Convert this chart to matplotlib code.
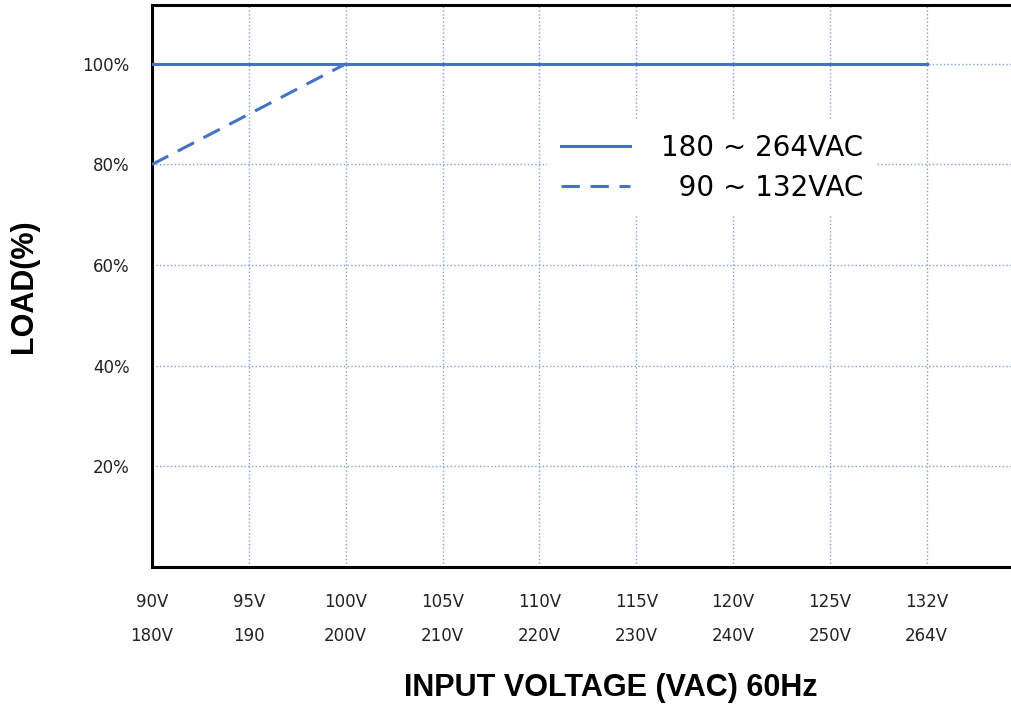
import matplotlib.pyplot as plt
import numpy as np

plt.rcParams["font.family"] = ["DejaVu Sans"]

# x categories (two voltage ranges share one axis)
volt_low = ["90V", "95V", "100V", "105V", "110V", "115V", "120V", "125V", "132V"]
volt_high = ["180V", "190", "200V", "210V", "220V", "230V", "240V", "250V", "264V"]
y_ticks = [20, 40, 60, 80, 100]

# series: position index on the category axis, load %
hv_x = [0, 8]
hv_load = [100, 100]
lv_x = [0, 2]
lv_load = [80, 100]

blue = "#4472C4"
grid_blue = "#7F9FD8"

fig = plt.figure(figsize=(10.11, 7.06), dpi=100)
ax = fig.add_axes([152 / 1011, 1 - 567 / 706, 1 - 152 / 1011, 562 / 706])

ax.plot(hv_x, hv_load, color=blue, lw=2.2, label="180 ~ 264VAC", zorder=3)
ax.plot(lv_x, lv_load, color=blue, lw=2.2, dashes=(6, 3.5), label="\u200790 ~ 132VAC", zorder=3)

ax.set_xlim(0, 8.87)
ax.set_ylim(0, 111.7)

xpos = np.arange(len(volt_low))
ax.set_xticks(xpos)
ax.set_xticklabels([a + "\n" + b for a, b in zip(volt_low, volt_high)],
                   fontsize=12, linespacing=2.12, color="#222222")
ax.set_yticks(y_ticks)
ax.set_yticklabels([f"{v}%" for v in y_ticks], fontsize=12, color="#222222")
ax.tick_params(axis="x", length=0, pad=19)
ax.tick_params(axis="y", length=0, pad=16)

ax.grid(True, color=grid_blue, linestyle=":", linewidth=1.0, zorder=0)

for s in ["left", "top", "bottom"]:
    ax.spines[s].set_linewidth(2.2)
    ax.spines[s].set_color("black")
ax.spines["right"].set_visible(False)

ax.set_ylabel("LOAD(%)", fontsize=22, fontweight="bold", family="Liberation Sans", labelpad=31)

fig.text(611 / 1011, 1 - 688 / 706, "INPUT VOLTAGE (VAC) 60Hz", fontsize=22,
         fontweight="bold", family="Liberation Sans", ha="center", va="center")

leg = ax.legend(loc="upper left", bbox_to_anchor=((547 - 152) / 859, 1 - (120 - 5) / 562),
                fontsize=20, frameon=True, facecolor="white", edgecolor="none",
                framealpha=1, handlelength=2.5, handletextpad=1.1, labelspacing=0.42,
                borderpad=0.5, borderaxespad=0, fancybox=False)
leg.set_zorder(5)

fig.savefig("out.png", dpi=100, facecolor="white")
